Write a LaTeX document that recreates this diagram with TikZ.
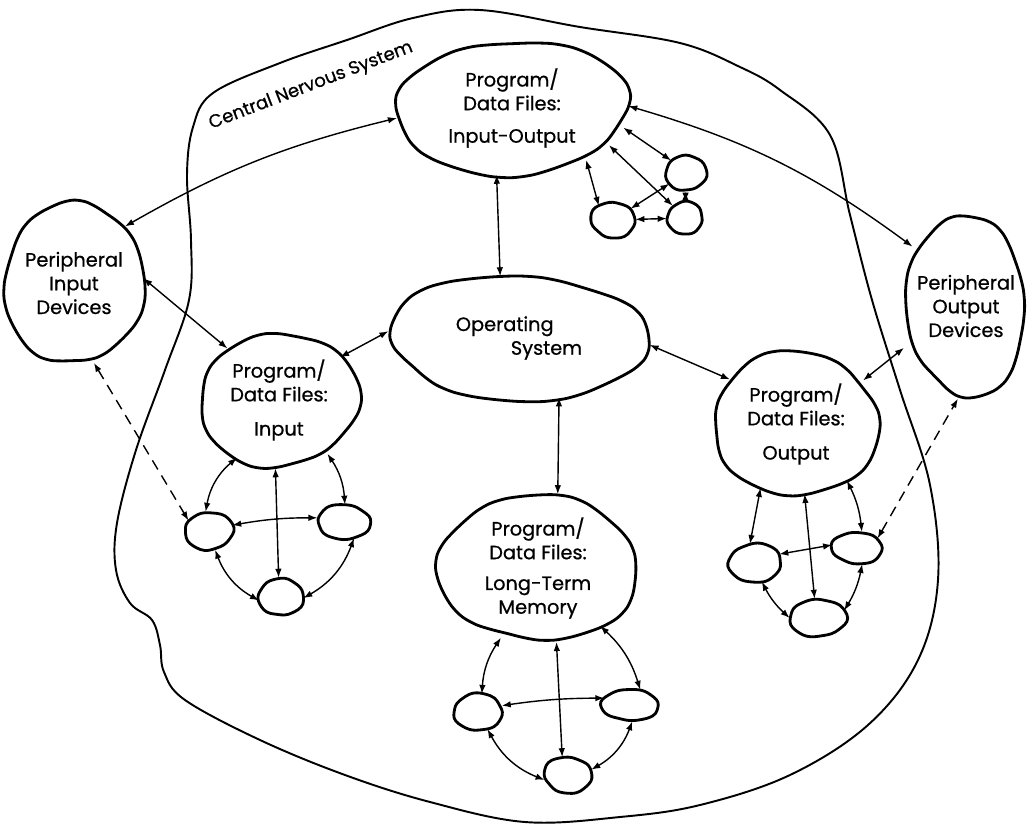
\documentclass[tikz,border=0pt]{standalone}
\usepackage{fontspec}
\setmainfont{Poppins}
\newfontfamily\lblfont{Poppins}[BoldFont={*}, BoldFeatures={FakeBold=0.7}]
\usetikzlibrary{shapes.geometric,arrows.meta}

\begin{document}
\begin{tikzpicture}[
                x=0.2mm, y=0.2mm,
                every node/.style={inner sep=0pt, font=\lblfont\bfseries\fontsize{11}{13.5}\selectfont, align=center},
                blobnode/.style 2 args={ellipse, minimum width=#1*0.4mm, minimum height=#2*0.4mm},
                blob/.style={line width=1.6pt, line join=round},
                link/.style={line width=0.8pt, {Latex[length=1.8mm,width=1.3mm]}-{Latex[length=1.8mm,width=1.3mm]}},
                hint/.style={link, dash pattern=on 6pt off 4pt},
                cns/.style={line width=1.1pt},
                declare function={wob(\t,\p)=1+0.035*sin(2*\t+\p)+0.025*sin(3*\t+2*\p)+0.015*sin(7*\t+3*\p);}
            ]
                \useasboundingbox (0,0) rectangle (1027,-829);

                % Central nervous system outline
                \draw[cns] plot[smooth cycle, tension=0.6] coordinates {
                    (187,-175) (191,-240) (189,-300) (165,-370) (136,-450) (117,-523) (116,-570)
                    (130,-603) (152,-620) (160,-645) (164,-672) (185,-700) (260,-740) (345,-775)
                    (430,-802) (525,-822) (620,-817) (700,-805) (790,-775) (868,-725) (918,-660)
                    (938,-580) (930,-485) (900,-390) (872,-300) (850,-215) (830,-135) (780,-90)
                    (740,-67) (680,-43) (580,-27) (480,-10) (413,-18) (347,-40) (280,-63)
                    (213,-93) (193,-127)};
                \node[rotate=21, font=\lblfont\bfseries\fontsize{10.3}{12}\selectfont] (cnslabel) at (311,-86) {Central Nervous System};

                % Main files and devices
                \node[blobnode={116}{67}] (pio) at (512,-108) {Program/\\Data Files:\\[5pt]Input-Output};
                \node[blobnode={68}{83}] (pin) at (74,-283) {Peripheral\\Input\\Devices};
                \node[blobnode={58}{93}] (pout) at (966,-306) {Peripheral\\Output\\Devices};
                \node[blobnode={131}{62}, align=left] (os) at (519,-338) {Operating\\\hspace*{11mm}System};
                \node[blobnode={78}{68}] (pinp) at (279,-400) {Program/\\Data Files:\\[6pt]Input};
                \node[blobnode={85}{70}] (pdo) at (796,-424) {Program/\\Data Files:\\[6pt]Output};
                \node[blobnode={97}{75}] (pltm) at (538,-568) {Program/\\Data Files:\\[4pt]Long-Term\\Memory};

                % Small files
                \node[blobnode={20}{18}] (ua) at (686,-173) {};
                \node[blobnode={22}{18}] (ub) at (613,-220) {};
                \node[blobnode={18}{16}] (uc) at (685,-218) {};
                \node[blobnode={24}{19}] (ia) at (209,-531) {};
                \node[blobnode={27}{17}] (ib) at (344,-522) {};
                \node[blobnode={22}{19}] (ic) at (281,-597) {};
                \node[blobnode={27}{19}] (oa) at (755,-563) {};
                \node[blobnode={25}{16}] (ob) at (857,-548) {};
                \node[blobnode={28}{19}] (oc) at (818,-618) {};
                \node[blobnode={25}{18}] (la) at (478,-712) {};
                \node[blobnode={28}{16}] (lb) at (630,-705) {};
                \node[blobnode={24}{18}] (lc) at (568,-775) {};

                % Wobbly outlines
                \foreach \n/\bw/\bh/\ph in {pio/116/67/0, pin/68/83/70, pout/58/93/140, os/131/62/200,
                    pinp/78/68/35, pdo/85/70/250, pltm/97/75/110, ua/20/18/60, ub/22/18/170,
                    uc/18/16/300, ia/24/19/20, ib/27/17/230, ic/22/19/90, oa/27/19/310,
                    ob/25/16/150, oc/28/19/45, la/25/18/275, lb/28/16/120, lc/24/18/190} {
                    \draw[blob, shift={(\n.center)}] plot[smooth cycle, samples=36, domain=0:350, variable=\t]
                        ({\bw*cos(\t)*wob(\t,\ph)}, {\bh*sin(\t)*wob(\t,\ph)});
                }

                % Links between main files
                \draw[link] (pio.-103) -- (os.107);
                \draw[link] (os.177) -- (pinp.35);
                \draw[link] (os.-3) -- (pdo.146);
                \draw[link] (os.-56) -- (pltm.75);
                \draw[link] (pin.48) to[bend left=8] (pio.185);
                \draw[link] (pio.1) to[bend left=10] (pout.132);
                \draw[link] (pin.4) -- (pinp.135);
                \draw[link] (pdo.33) -- (pout.214);
                \draw[hint] (pin.-76) -- (ia.153);
                \draw[hint] (ob.25) -- (pout.-95);

                % Input-output subfiles
                \draw[link] (pio.-35) -- (ub.135);
                \draw[link] (pio.-21) -- (uc.135);
                \draw[link] (pio.-10) -- (ua.140);
                \draw[link] (ub) -- (ua);
                \draw[link] (ua) -- (uc);
                \draw[link] (ub) -- (uc);

                % Input subfiles
                \draw[link] (pinp.-126) to[bend right=20] (ia.100);
                \draw[link] (ia.-72) to[bend right=20] (ic.189);
                \draw[link] (ic.-3) to[bend right=20] (ib.-58);
                \draw[link] (ib.87) to[bend right=15] (pinp.-48);
                \draw[link] (pinp.-93) -- (ic.97);
                \draw[link] (ia.14) to[bend left=5] (ib.171);

                % Output subfiles
                \draw[link] (pdo.-119) -- (oa.105);
                \draw[link] (pdo.-83) -- (oc.100);
                \draw[link] (pdo.-48) to[bend left=10] (ob.73);
                \draw[link] (oa.20) -- (ob.173);
                \draw[link] (oa.-70) to[bend right=10] (oc.180);
                \draw[link] (oc.16) to[bend right=10] (ob.-72);

                % Long-term memory subfiles
                \draw[link] (pltm.-118) to[bend right=15] (la.78);
                \draw[link] (la.-61) to[bend right=20] (lc.192);
                \draw[link] (lc.13) to[bend right=20] (lb.-82);
                \draw[link] (lb.56) to[bend right=15] (pltm.-43);
                \draw[link] (pltm.-76) -- (lc.108);
                \draw[link] (la.15) to[bend left=4] (lb.165);
            \end{tikzpicture}
\end{document}
